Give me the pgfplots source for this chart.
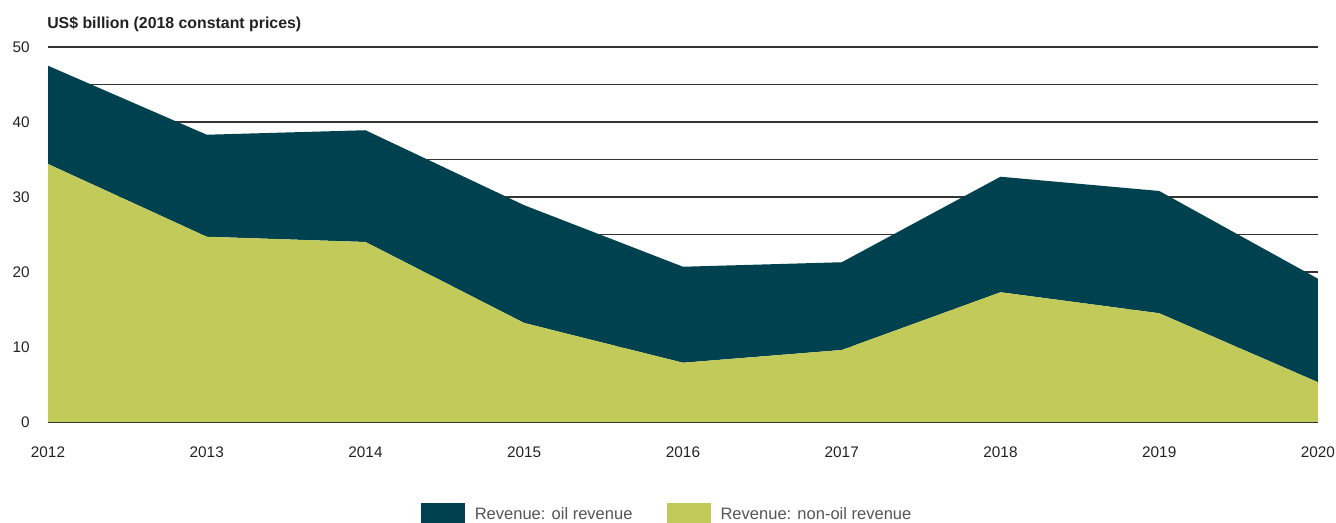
\documentclass[border=0pt]{standalone}
\usepackage{pgfplots}
\pgfplotsset{compat=1.18}
\usepackage{fontspec}
\setmainfont{Liberation Sans}
\definecolor{oil}{HTML}{00414F}
\definecolor{nonoil}{HTML}{C2CA5A}
\definecolor{gridc}{HTML}{333333}
\definecolor{txt}{HTML}{222222}
\definecolor{legtxt}{HTML}{555555}
\pgfplotstableread{
year nonoil oil
2012 34.4 13.1
2013 24.7 13.6
2014 24.0 14.9
2015 13.2 15.7
2016 7.9 12.8
2017 9.6 11.7
2018 17.3 15.4
2019 14.5 16.3
2020 5.3 13.8
}\revdata
\begin{document}
\begin{tikzpicture}[x=0.75pt,y=0.75pt]
\path[use as bounding box] (0,0) rectangle (1336,523);
\node[anchor=west, inner sep=0pt, text=txt, font=\bfseries\fontsize{11.9}{13}\selectfont] at (47,499) {US\$ billion (2018 constant prices)};
\begin{axis}[
  at={(36pt,75.75pt)}, anchor=south west,
  scale only axis, width=952.5pt, height=281.25pt,
  xmin=2012, xmax=2020, ymin=0, ymax=50,
  axis line style={draw=none},
  major tick length=0pt, minor tick length=0pt,
  tick style={draw=none},
  xtick={2012,2013,...,2020},
  ytick={10,20,...,50},
  minor ytick={5,15,...,45},
  extra y ticks={0},
  extra y tick style={grid style={color=black!15, line width=1.5pt}},
  ymajorgrids, yminorgrids,
  major grid style={color=gridc, line width=0.8pt},
  minor grid style={color=gridc, line width=0.8pt},
  /pgf/number format/assume math mode=true,
  /pgf/number format/1000 sep={},
  ticklabel style={font=\fontsize{11.5}{13}\selectfont, text=txt},
  xticklabel style={anchor=center, yshift=-22.5pt},
  yticklabel style={anchor=east, inner sep=0pt, xshift=-13.5pt},
  legend style={at={(0.488,-0.246)}, anchor=center, draw=none, fill=none,
    legend columns=2, font=\fontsize{12.4}{14}\selectfont, text=legtxt,
    /tikz/every even column/.append style={column sep=24pt},
    /tikz/every odd column/.append style={column sep=5pt}},
  legend cell align=left,
  legend image code/.code={\fill[#1] (0pt,-8.25pt) rectangle (33pt,8.25pt);},
  stack plots=y,
]
\addlegendimage{fill=oil, draw=none}
\addlegendentry{Revenue: oil revenue}
\addlegendimage{fill=nonoil, draw=none}
\addlegendentry{Revenue: non-oil revenue}
\addplot[fill=nonoil, draw=none, forget plot] table[x=year, y=nonoil] {\revdata} \closedcycle;
\addplot[fill=oil, draw=none, forget plot] table[x=year, y=oil] {\revdata} \closedcycle;
\end{axis}
\end{tikzpicture}
\end{document}
